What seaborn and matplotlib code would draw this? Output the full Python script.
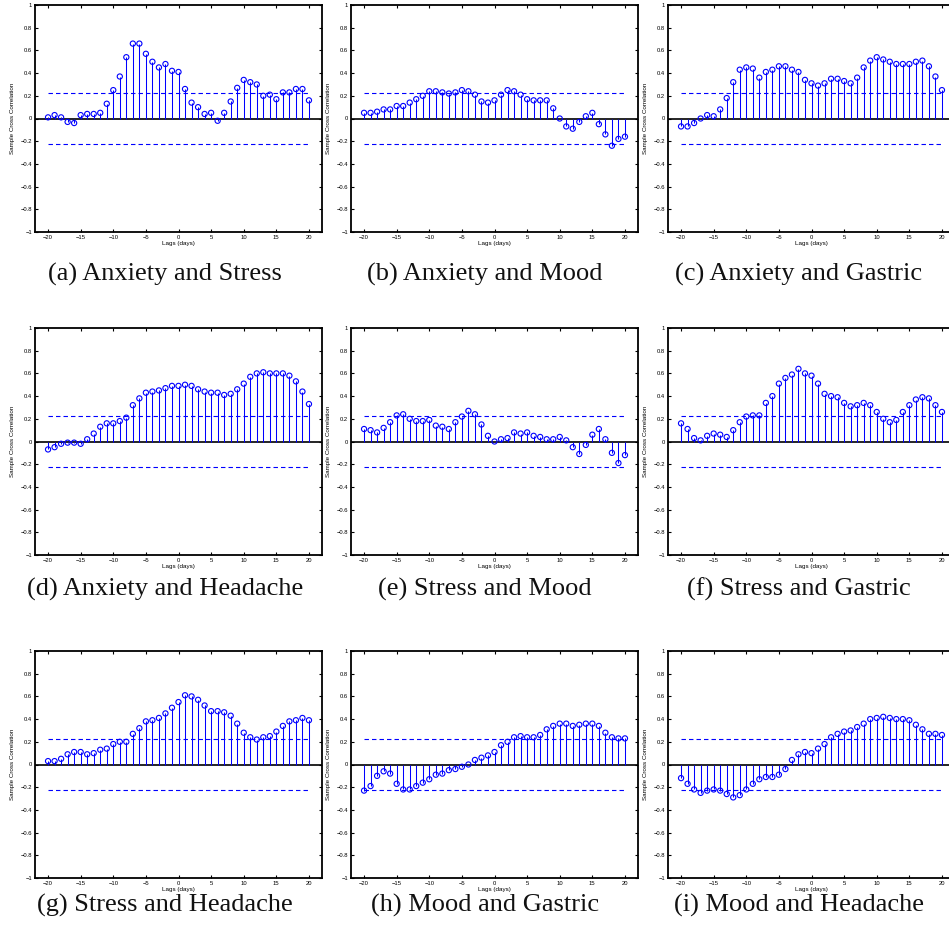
import numpy as np
import pandas as pd
import matplotlib
matplotlib.use("Agg")
import matplotlib.pyplot as plt
import seaborn as sns
from matplotlib.ticker import FuncFormatter

# Lags (days) and the approximate 95% confidence bound
lags = list(range(-20, 21))
conf_bound = 0.2236

# Sample cross correlations, lag -20 ... 20
anxiety_stress = [0.01, 0.03, 0.01, -0.03, -0.04, 0.03, 0.04, 0.04, 0.05, 0.13,
                  0.25, 0.37, 0.54, 0.66, 0.66, 0.57, 0.50, 0.45, 0.48, 0.42,
                  0.41,
                  0.26, 0.14, 0.10, 0.04, 0.05, -0.02, 0.05, 0.15, 0.27, 0.34,
                  0.32, 0.30, 0.20, 0.21, 0.17, 0.23, 0.23, 0.26, 0.26, 0.16]
anxiety_mood = [0.05, 0.05, 0.06, 0.08, 0.08, 0.11, 0.11, 0.14, 0.17, 0.20,
                0.24, 0.24, 0.23, 0.22, 0.23, 0.25, 0.24, 0.21, 0.15, 0.14,
                0.16,
                0.21, 0.25, 0.24, 0.21, 0.17, 0.16, 0.16, 0.16, 0.09, 0.00,
                -0.07, -0.09, -0.03, 0.02, 0.05, -0.05, -0.14, -0.24, -0.18, -0.16]
anxiety_gastric = [-0.07, -0.07, -0.04, 0.00, 0.03, 0.02, 0.08, 0.18, 0.32, 0.43,
                   0.45, 0.44, 0.36, 0.41, 0.43, 0.46, 0.46, 0.43, 0.41, 0.34,
                   0.31,
                   0.29, 0.31, 0.35, 0.35, 0.33, 0.31, 0.36, 0.45, 0.51, 0.54,
                   0.52, 0.50, 0.48, 0.48, 0.48, 0.50, 0.51, 0.46, 0.37, 0.25]
anxiety_headache = [-0.07, -0.05, -0.02, -0.01, -0.01, -0.02, 0.02, 0.07, 0.13, 0.16,
                    0.16, 0.18, 0.21, 0.32, 0.38, 0.43, 0.44, 0.45, 0.47, 0.49,
                    0.49,
                    0.50, 0.49, 0.46, 0.44, 0.43, 0.43, 0.41, 0.42, 0.46, 0.51,
                    0.57, 0.60, 0.61, 0.60, 0.60, 0.60, 0.58, 0.53, 0.44, 0.33]
stress_mood = [0.11, 0.10, 0.08, 0.12, 0.17, 0.23, 0.24, 0.20, 0.18, 0.18,
               0.19, 0.14, 0.13, 0.11, 0.17, 0.22, 0.27, 0.24, 0.15, 0.05,
               0.00,
               0.02, 0.03, 0.08, 0.07, 0.08, 0.05, 0.04, 0.02, 0.02, 0.04,
               0.01, -0.05, -0.11, -0.03, 0.06, 0.11, 0.02, -0.10, -0.19, -0.12]
stress_gastric = [0.16, 0.11, 0.03, 0.01, 0.05, 0.07, 0.06, 0.04, 0.10, 0.17,
                  0.22, 0.23, 0.23, 0.34, 0.40, 0.51, 0.56, 0.59, 0.64, 0.60,
                  0.58,
                  0.51, 0.42, 0.40, 0.39, 0.34, 0.31, 0.32, 0.34, 0.32, 0.26,
                  0.20, 0.17, 0.19, 0.26, 0.32, 0.37, 0.39, 0.38, 0.32, 0.26]
stress_headache = [0.03, 0.03, 0.05, 0.09, 0.11, 0.11, 0.09, 0.10, 0.13, 0.14,
                   0.18, 0.20, 0.20, 0.27, 0.32, 0.38, 0.39, 0.41, 0.45, 0.50,
                   0.55,
                   0.61, 0.60, 0.57, 0.52, 0.47, 0.47, 0.46, 0.43, 0.36, 0.28,
                   0.24, 0.22, 0.24, 0.25, 0.29, 0.34, 0.38, 0.39, 0.41, 0.39]
mood_gastric = [-0.23, -0.19, -0.10, -0.06, -0.08, -0.17, -0.22, -0.22, -0.19, -0.16,
                -0.13, -0.09, -0.08, -0.05, -0.04, -0.02, 0.00, 0.04, 0.06, 0.08,
                0.11,
                0.17, 0.20, 0.24, 0.25, 0.24, 0.24, 0.26, 0.31, 0.34, 0.36,
                0.36, 0.34, 0.35, 0.36, 0.36, 0.34, 0.28, 0.24, 0.23, 0.23]
mood_headache = [-0.12, -0.17, -0.22, -0.25, -0.23, -0.22, -0.23, -0.26, -0.29, -0.27,
                 -0.22, -0.17, -0.13, -0.11, -0.11, -0.09, -0.04, 0.04, 0.09, 0.11,
                 0.10,
                 0.14, 0.18, 0.24, 0.27, 0.29, 0.30, 0.33, 0.36, 0.40, 0.41,
                 0.42, 0.41, 0.40, 0.40, 0.39, 0.35, 0.31, 0.27, 0.27, 0.26]

captions = ["(a) Anxiety and Stress", "(b) Anxiety and Mood", "(c) Anxiety and Gastric",
            "(d) Anxiety and Headache", "(e) Stress and Mood", "(f) Stress and Gastric",
            "(g) Stress and Headache", "(h) Mood and Gastric", "(i) Mood and Headache"]
series = [anxiety_stress, anxiety_mood, anxiety_gastric,
          anxiety_headache, stress_mood, stress_gastric,
          stress_headache, mood_gastric, mood_headache]

x_ticks = list(range(-20, 21, 5))
y_ticks = [round(v, 1) for v in np.linspace(-1, 1, 11)]

sns.set_theme(style="white")
plt.rcParams['font.family'] = ['Liberation Sans', 'DejaVu Sans']
plt.rcParams['lines.scale_dashes'] = False

W, H = 949, 939
fig = plt.figure(figsize=(W / 100, H / 100), dpi=100)
fig.patch.set_facecolor("white")

col_left = [35, 351, 668]
row_top = [5, 328, 651]
ax_w, ax_h = 287, 227
cap_x = [165, 485, 799]
cap_y = [274, 589, 905]


def tick_fmt(v, pos):
    s = "%g" % round(v, 1)
    return s.replace("-", "\u2212")


for i, (vals, cap) in enumerate(zip(series, captions)):
    r, c = divmod(i, 3)
    left, top = col_left[c], row_top[r]
    ax = fig.add_axes([left / W, 1 - (top + ax_h) / H, ax_w / W, ax_h / H])
    df = pd.DataFrame({"lag": lags, "xcf": vals})

    ax.axhline(0, color="black", lw=1.2, zorder=2)
    ax.vlines(df["lag"], 0, df["xcf"], color="blue", lw=0.75, zorder=3)
    sns.scatterplot(data=df, x="lag", y="xcf", ax=ax, marker="o", s=14,
                    facecolor="none", edgecolor="blue", linewidth=0.8,
                    zorder=4, legend=False)
    ax.hlines([conf_bound, -conf_bound], lags[0], lags[-1], colors="blue",
              linestyles=(0, (3.2, 2.2)), lw=0.8, zorder=3)

    ax.set_xlim(-22, 22)
    ax.set_ylim(-1, 1)
    ax.set_xticks(x_ticks)
    ax.set_yticks(y_ticks)
    ax.xaxis.set_major_formatter(FuncFormatter(tick_fmt))
    ax.yaxis.set_major_formatter(FuncFormatter(tick_fmt))
    ax.tick_params(direction="in", length=2.5, width=0.8, top=True, right=True,
                   bottom=True, left=True, labelsize=4.2, pad=2, colors="black")
    for sp in ax.spines.values():
        sp.set_visible(True)
        sp.set_color("black")
        sp.set_linewidth(1.3)

    ax.set_xlabel("Lags (days)", fontsize=4.5, color="black")
    ax.xaxis.set_label_coords(0.5, -9 / ax_h)
    ax.set_ylabel("Sample Cross Correlation", fontsize=4.5, color="black")
    ax.yaxis.set_label_coords(-20 / ax_w, 0.5)

    fig.text(cap_x[c] / W, 1 - cap_y[r] / H, cap, ha="center", va="center",
             family=["Liberation Serif"], fontsize=19, color="#111111")

fig.savefig("out.png", dpi=100)
